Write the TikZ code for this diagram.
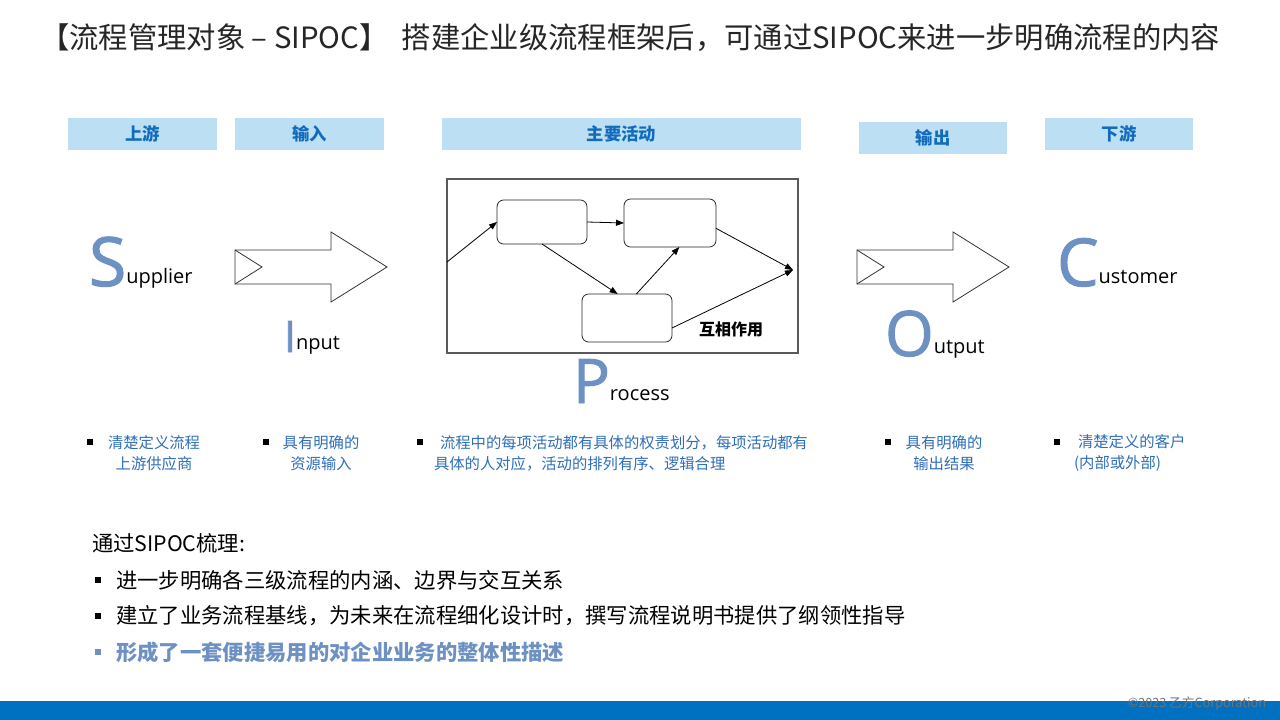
\documentclass[tikz,border=0pt]{standalone}
\usepackage{fontspec}
\setmainfont{Noto Sans CJK SC}
\newfontfamily\sipocfont{Open Sans}
\newfontfamily\sipocbig[FakeBold=1.6]{Open Sans}
\usetikzlibrary{positioning,arrows.meta}
\definecolor{headfill}{RGB}{189,223,244}
\definecolor{headtext}{RGB}{18,108,189}
\definecolor{sipocblue}{RGB}{110,145,196}
\definecolor{notetext}{RGB}{47,111,183}
\definecolor{footbar}{RGB}{0,112,192}
\tikzset{every node/.style={inner sep=0pt,outer sep=0pt},
  headbox/.style={fill=headfill,text=headtext,font=\fontsize{13}{15}\selectfont\bfseries,minimum height=24pt},
  stepbox/.style={draw=black!85,line width=0.6pt,rounded corners=5pt},
  flow/.style={-{Triangle[length=6pt,width=4.5pt]},line width=0.6pt},
  fatarrow/.style={draw=black!80,line width=0.6pt,line join=miter},
  bigletter/.style={text=sipocblue,anchor=base west},
  word/.style={font=\sipocfont\fontsize{15}{18}\selectfont,anchor=base west},
  note/.style={text=notetext,font=\fontsize{11.5}{15.75}\selectfont},
  notemark/.style={fill=black,minimum size=4pt},
  listtext/.style={font=\fontsize{16}{19}\selectfont,anchor=west},
  listmark/.style={minimum size=5pt}}
\newcommand{\sipoc}[6]{% name, x, baseline, size, letter, rest
  \node[bigletter,font=\sipocbig\fontsize{#4}{#4}\selectfont] (#1) at (#2,#3) {#5};
  \node[word,yshift=2pt] (#1w) at (#1.base east) {#6};}
\newcommand{\fatarrow}[2]{%
  \draw[fatarrow] (#1,#2) -- ++(96,0) -- ++(0,-18) -- ++(56,35) -- ++(-56,35)
    -- ++(0,-18) -- ++(-96,0) -- cycle;
  \draw[fatarrow] (#1,#2) -- ++(27,17) -- ++(-27,17);}
\begin{document}
\begin{tikzpicture}[x=0.75pt,y=-0.75pt]
  \useasboundingbox[fill=white] (0,0) rectangle (1280,720);
  \node[anchor=west,font=\fontsize{22}{26}\selectfont,text=black!85] (title) at (40,38)
    {【流程管理对象 – SIPOC】\ \ 搭建企业级流程框架后，可通过SIPOC来进一步明确流程的内容};
  % column heads
  \foreach \nm/\cx/\cy/\w/\txt in {headUp/142.5/134/149/上游, headIn/309.5/134/149/输入,
      headAct/621.5/134/359/主要活动, headOut/933/138/148/输出, headDown/1119/134/148/下游}
    \node[headbox,minimum width=\w*0.75pt] (\nm) at (\cx,\cy) {\txt};
  % process frame
  \node[draw=black!65,line width=0.9pt,minimum width=263.25pt,minimum height=130.5pt] (frame) at (622.5,266) {};
  \node[stepbox,minimum width=67.5pt,minimum height=33pt] (stepA) at (542,222) {};
  \node[stepbox,minimum width=69pt,minimum height=36pt] (stepB) at (670,223) {};
  \node[stepbox,minimum width=67.5pt,minimum height=36pt] (stepC) at (627,318) {};
  \coordinate (inflow) at (447,262);
  \coordinate (outflow) at (793,270);
  \draw[flow] (inflow) -- (stepA.west);
  \draw[flow] (stepA.east) -- (stepB.west);
  \draw[flow] (stepA.south) -- ([xshift=-7pt]stepC.north);
  \draw[flow] ([xshift=7pt]stepC.north) -- ([xshift=7pt]stepB.south);
  \draw[flow] ([yshift=-4pt]stepB.east) -- (outflow);
  \draw[flow] ([yshift=-7.5pt]stepC.east) -- (outflow);
  \node[font=\fontsize{12}{14}\selectfont\bfseries] (mutual) at (731,329) {互相作用};
  % S I P O C
  \sipoc{sLet}{89}{286}{51}{S}{upplier}
  \sipoc{iLet}{284}{352}{32.5}{I}{nput}
  \sipoc{pLet}{573}{403}{46}{P}{rocess}
  \sipoc{oLet}{885}{356}{47}{O}{utput}
  \sipoc{cLet}{1057}{286}{49.5}{C}{ustomer}
  \fatarrow{235}{250}
  \fatarrow{857}{250}
  % notes
  \foreach \nm/\bx in {mk1/90,mk2/266,mk3/420,mk4/888,mk5/1057}
    \node[notemark] (\nm) at (\bx,442) {};
  \node[note,align=center] (note1) at (154,453) {清楚定义流程\\上游供应商};
  \node[note,align=center] (note2) at (321,453) {具有明确的\\资源输入};
  \node[note,align=left,anchor=west] (note3) at (434,453)
    {\hspace*{4.5pt}流程中的每项活动都有具体的权责划分，每项活动都有\\具体的人对应，活动的排列有序、逻辑合理};
  \node[note,align=center] (note4) at (944,453) {具有明确的\\输出结果};
  \node[note,align=left,anchor=west] (note5) at (1074,453) {\hspace*{3pt}清楚定义的客户\\(内部或外部)};
  % summary
  \node[anchor=west,font=\fontsize{16}{19}\selectfont] (lead) at (92,543) {通过SIPOC梳理:};
  \foreach \nm/\ly/\cl in {li1/580/black,li2/616/black,li3/652/sipocblue}
    \node[listmark,fill=\cl] (\nm) at (98,\ly) {};
  \node[listtext,right=11pt of li1] (item1) {进一步明确各三级流程的内涵、边界与交互关系};
  \node[listtext,right=11pt of li2] (item2) {建立了业务流程基线，为未来在流程细化设计时，撰写流程说明书提供了纲领性指导};
  \node[listtext,right=11pt of li3,text=sipocblue,font=\fontsize{16}{19}\selectfont\bfseries] (item3) {形成了一套便捷易用的对企业业务的整体性描述};
  % footer
  \fill[footbar] (0,701) rectangle (1280,720);
  \node[anchor=east,text=black!55,font=\fontsize{9.5}{11}\selectfont] (copyright) at (1266,704) {©2023 乙方Corporation};
\end{tikzpicture}
\end{document}
